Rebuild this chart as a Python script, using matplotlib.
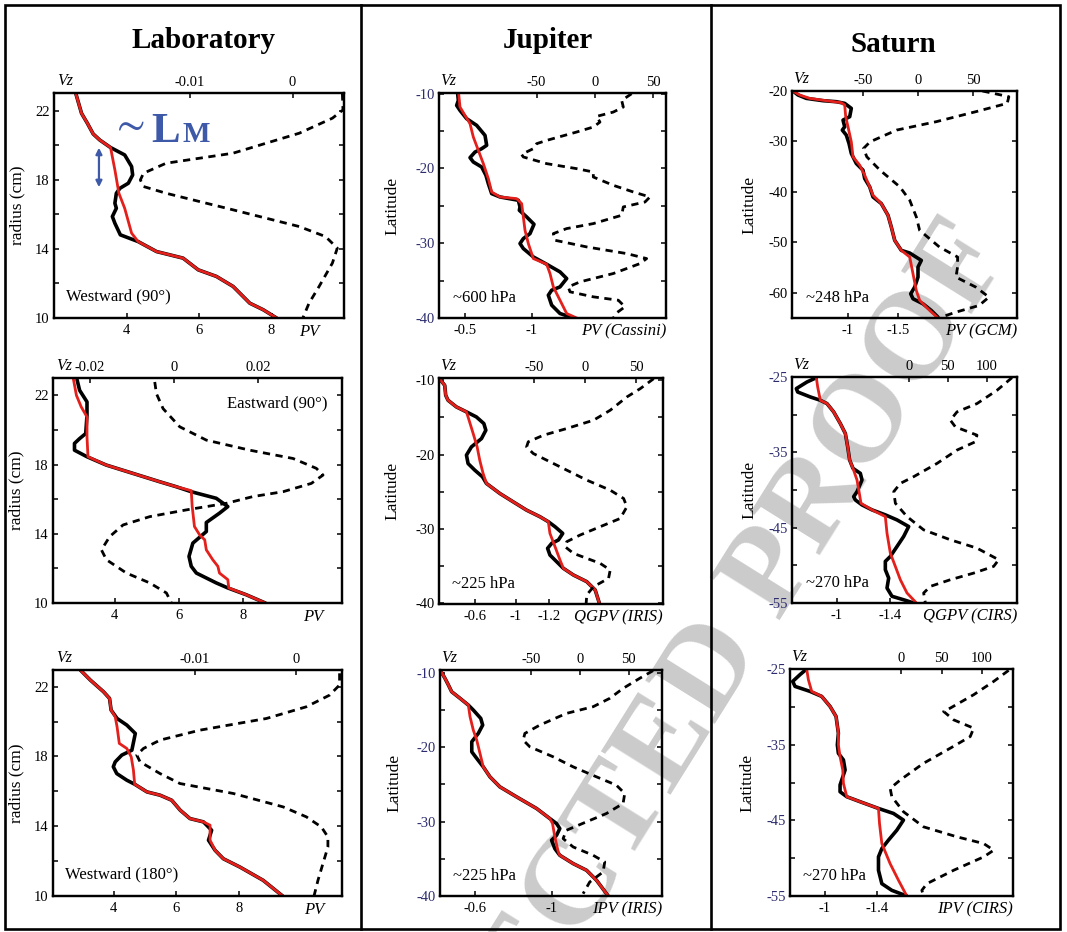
import matplotlib
matplotlib.use("Agg")
import matplotlib.pyplot as plt
from matplotlib.patches import Rectangle, FancyArrowPatch
from matplotlib.lines import Line2D

plt.rcParams['font.family'] = ['Liberation Serif', 'DejaVu Serif']
plt.rcParams['mathtext.fontset'] = 'stix'

W, H = 1067, 932

# ---------------- Laboratory, westward 90 ----------------
LAB1_BLACK_PV = [2.60, 2.76, 2.92, 3.08, 3.26, 3.56, 3.95, 4.14, 4.17, 4.05, 3.82, 3.72, 3.68, 3.72, 3.61,
                 3.68, 3.83, 4.32, 4.83, 5.56, 5.98, 6.48, 6.94, 7.40, 7.77, 8.14]
LAB1_BLACK_R = [23.02, 21.86, 21.29, 20.67, 20.32, 19.88, 19.45, 18.78, 18.29, 17.81, 17.52, 17.23, 16.65, 16.36,
                15.88, 15.49, 14.82, 14.43, 13.85, 13.47, 12.79, 12.41, 11.83, 10.86, 10.48, 10.0]
LAB1_RED_PV = [2.60, 2.76, 2.92, 3.08, 3.26, 3.56, 3.68, 3.79, 3.95, 4.14, 4.32, 4.83, 5.56, 5.98, 6.48, 6.94,
               7.40, 7.77, 8.14]
LAB1_RED_R = [23.02, 21.86, 21.29, 20.67, 20.32, 19.88, 18.58, 17.23, 16.36, 14.92, 14.43, 13.85, 13.47, 12.79,
              12.41, 11.83, 10.86, 10.48, 10.0]
LAB1_VZ = [0.00484, 0.0049, 0.00387, 0.00065, -0.0058, -0.0123, -0.0145, -0.0148, -0.0145, -0.0123, -0.0058,
           0.00065, 0.0032, 0.00435, 0.00387, 0.00258, 0.0016, 0.001]
LAB1_VZ_R = [23.02, 22.06, 21.58, 20.71, 19.55, 18.97, 18.39, 18.0, 17.62, 17.23, 16.27, 15.30, 14.72, 14.05,
             13.18, 11.83, 10.86, 10.0]

# ---------------- Laboratory, eastward 90 ----------------
LAB2_BLACK_PV = [2.83, 2.91, 3.14, 3.14, 3.10, 2.91, 2.75, 2.75, 3.14, 3.74, 4.57, 5.40, 5.92, 6.39, 7.17, 7.53,
                 7.27, 6.86, 6.86, 6.44, 6.32, 6.39, 6.55, 7.17, 7.53, 8.10, 8.70]
LAB2_BLACK_R = [22.9, 22.29, 21.62, 20.85, 19.79, 19.5, 19.22, 18.83, 18.45, 17.97, 17.49, 17.01, 16.72, 16.43,
                16.05, 15.57, 15.19, 14.65, 14.13, 13.46, 12.69, 12.12, 11.73, 11.16, 10.87, 10.48, 10.0]
LAB2_RED_PV = [2.72, 2.81, 2.96, 3.14, 3.14, 3.17, 3.74, 4.57, 5.40, 5.92, 6.39, 6.42, 6.49, 6.65, 6.81, 6.86,
               7.06, 7.22, 7.27, 7.53, 7.56, 8.10, 8.70]
LAB2_RED_R = [22.9, 22.0, 21.33, 20.75, 19.6, 18.45, 17.97, 17.49, 17.01, 16.72, 16.49, 15.57, 14.42, 13.94,
              13.65, 13.07, 12.5, 12.12, 11.73, 11.35, 10.87, 10.48, 10.0]
LAB2_VZ = [-0.00451, -0.00412, -0.00253, 0.00143, 0.00776, 0.01806, 0.02836, 0.0339, 0.03549, 0.03271, 0.02598,
           0.01885, 0.01251, 0.00301, -0.0057, -0.01204, -0.01521, -0.01719, -0.016, -0.01125, -0.0057,
           -0.00174, -0.00055]
LAB2_VZ_R = [22.77, 22.1, 21.23, 20.18, 19.41, 18.83, 18.35, 17.78, 17.39, 16.91, 16.43, 16.15, 15.76, 15.38,
             14.99, 14.51, 13.84, 13.07, 12.5, 11.73, 11.16, 10.58, 10.0]

# ---------------- Laboratory, westward 180 ----------------
LAB3_BLACK_PV = [2.94, 3.26, 3.68, 3.87, 3.92, 4.11, 4.42, 4.69, 4.58, 4.26, 4.05, 3.99, 4.10, 4.42, 4.67, 5.06,
                 5.48, 5.85, 6.12, 6.43, 6.86, 7.12, 7.02, 7.23, 7.49, 8.02, 8.76, 9.38]
LAB3_BLACK_R = [22.96, 22.38, 21.71, 21.33, 20.66, 20.18, 19.80, 19.32, 18.36, 18.08, 17.69, 17.41, 17.02, 16.64,
                16.41, 15.97, 15.78, 15.49, 14.92, 14.44, 14.25, 13.77, 13.2, 12.62, 12.14, 11.66, 10.9, 10.0]
LAB3_RED_PV = [2.94, 3.26, 3.68, 3.87, 3.92, 4.05, 4.11, 4.18, 4.42, 4.56, 4.63, 4.67, 5.06, 5.48, 5.85, 6.12,
               6.43, 6.86, 7.07, 7.07, 7.23, 7.49, 8.02, 8.76, 9.38]
LAB3_RED_R = [22.96, 22.38, 21.71, 21.33, 20.66, 20.28, 19.70, 18.75, 18.46, 17.98, 17.22, 16.41, 15.97, 15.78,
              15.49, 14.92, 14.44, 14.25, 14.06, 13.2, 12.62, 12.14, 11.66, 10.9, 10.0]
LAB3_VZ = [0.00426, 0.00426, 0.00328, 0.00098, -0.00295, -0.00951, -0.01344, -0.01508, -0.01574, -0.01541,
           -0.01344, -0.01148, -0.00623, -0.00131, 0.00098, 0.00246, 0.00311, 0.00311, 0.00262, 0.00213, 0.00174]
LAB3_VZ_R = [22.77, 22.1, 21.52, 20.85, 20.18, 19.51, 18.94, 18.46, 18.08, 17.69, 17.02, 16.45, 15.88, 15.11,
             14.54, 13.96, 13.39, 12.81, 11.86, 10.90, 10.0]

# ---------------- Jupiter ~600 hPa (Cassini PV) ----------------
JUP1_BLACK_PV = [-0.445, -0.45, -0.4375, -0.4625, -0.5125, -0.5875, -0.65, -0.6625, -0.625, -0.575, -0.5375,
                 -0.5625, -0.625, -0.657, -0.675, -0.70, -0.7625, -0.9, -0.9125, -0.9075, -0.9625, -1.0175,
                 -0.9875, -0.9375, -0.9125, -0.9375, -1.0125, -1.1125, -1.2125, -1.2625, -1.2125, -1.15, -1.125,
                 -1.15, -1.2125, -1.3125]
JUP1_BLACK_LAT = [-10.0, -10.89, -11.56, -12.23, -13.34, -14.23, -15.57, -16.9, -17.35, -17.8, -18.55, -19.13,
                  -19.8, -20.91, -22.03, -23.36, -23.81, -24.25, -25.14, -25.59, -26.48, -27.46, -28.71, -29.38,
                  -30.04, -30.71, -31.83, -32.81, -33.83, -34.72, -35.84, -36.28, -36.95, -38.28, -39.4, -40.0]
JUP1_RED_PV = [-0.4525, -0.4625, -0.5075, -0.5375, -0.5625, -0.6, -0.6375, -0.675, -0.7, -0.7625, -0.8875,
               -0.925, -0.9375, -0.95, -0.975, -1.0125, -1.1125, -1.1375, -1.1625, -1.2125, -1.2625, -1.3375]
JUP1_RED_LAT = [-10.0, -11.78, -13.12, -14.0, -15.79, -17.57, -19.35, -21.36, -23.14, -23.81, -24.03, -24.7,
                -26.48, -28.26, -30.04, -32.05, -32.81, -34.05, -35.84, -37.62, -39.4, -40.0]
JUP1_VZ = [31.4, 22.9, 24.3, 15.7, 1.4, 4.3, -1.4, -15.7, -41.4, -50.0, -52.9, -62.9, -61.4, -41.4, -15.7, -1.4,
           -1.4, 15.7, 32.9, 47.1, 42.9, 24.3, 22.9, -1.4, -24.3, -35.7, -34.3, -7.1, 27.1, 44.3, 38.6, 15.7,
           -12.9, -22.9, -21.4, -1.4, 20.0, 25.7, 18.6, 15.7]
JUP1_VZ_LAT = [-10.0, -10.89, -11.78, -12.45, -13.03, -13.79, -14.45, -15.12, -16.24, -16.68, -17.35, -18.11,
               -18.46, -19.35, -20.02, -20.47, -21.14, -22.25, -23.14, -23.81, -24.48, -25.14, -26.26, -27.37,
               -28.04, -28.71, -29.6, -30.49, -31.38, -32.05, -32.72, -34.05, -35.17, -35.84, -36.5, -37.17,
               -37.62, -38.5, -39.31, -40.0]

# ---------------- Jupiter ~225 hPa (IRIS QGPV) ----------------
JUP2_BLACK_PV = [-0.326, -0.358, -0.366, -0.385, -0.452, -0.533, -0.613, -0.673, -0.689, -0.654, -0.573, -0.533,
                 -0.546, -0.6, -0.662, -0.694, -0.802, -0.909, -1.017, -1.125, -1.192, -1.246, -1.308, -1.273,
                 -1.219, -1.186, -1.205, -1.259, -1.313, -1.394, -1.501, -1.569, -1.603]
JUP2_BLACK_LAT = [-10.0, -10.67, -12.02, -12.69, -13.58, -14.25, -14.93, -15.82, -16.72, -17.84, -18.96, -20.07,
                  -21.2, -22.09, -22.99, -23.88, -25.23, -26.35, -27.47, -28.36, -29.03, -29.7, -30.6, -31.49,
                  -31.94, -32.61, -33.51, -34.41, -35.3, -36.2, -37.09, -38.21, -40.0]
JUP2_RED_PV = [-0.326, -0.358, -0.366, -0.385, -0.452, -0.533, -0.554, -0.587, -0.619, -0.64, -0.667, -0.694,
               -0.802, -0.909, -1.017, -1.125, -1.192, -1.205, -1.246, -1.286, -1.313, -1.394, -1.501, -1.569,
               -1.603]
JUP2_RED_LAT = [-10.0, -10.67, -12.02, -12.69, -13.58, -14.25, -15.37, -17.16, -18.96, -20.75, -22.54, -23.88,
                -25.23, -26.35, -27.47, -28.36, -29.03, -30.6, -32.39, -34.18, -35.3, -36.2, -37.09, -38.21, -40.0]
JUP2_VZ = [67.0, 53.9, 40.8, 24.5, 8.2, -18.0, -40.8, -55.6, -57.2, -50.7, -24.5, 1.6, 24.5, 37.6, 40.8, 34.3,
           14.7, -4.9, -18.0, -19.6, -11.4, 14.7, 24.5, 22.9, 8.2, 1.6, 1.0]
JUP2_VZ_LAT = [-9.78, -11.12, -12.24, -14.03, -15.37, -16.49, -17.39, -18.28, -18.96, -19.85, -21.64, -23.43,
               -24.78, -25.9, -27.02, -28.59, -29.7, -30.82, -31.72, -32.39, -33.29, -34.63, -35.53, -36.65,
               -37.77, -38.88, -40.0]

# ---------------- Jupiter ~225 hPa (IRIS IPV) ----------------
JUP3_BLACK_PV = [-0.426, -0.443, -0.461, -0.478, -0.522, -0.565, -0.591, -0.63, -0.64, -0.617, -0.583, -0.583,
                 -0.609, -0.643, -0.678, -0.73, -0.817, -0.922, -0.991, -1.026, -1.043, -1.026, -1.0, -1.017,
                 -1.043, -1.113, -1.183, -1.235, -1.296]
JUP3_BLACK_LAT = [-10.0, -10.76, -11.66, -12.56, -13.45, -14.35, -15.02, -16.14, -17.04, -18.16, -19.28, -20.63,
                  -21.52, -22.65, -23.99, -25.34, -26.68, -28.25, -29.6, -30.27, -30.94, -31.84, -32.51, -33.63,
                  -34.53, -35.65, -36.55, -37.89, -40.0]
JUP3_RED_PV = [-0.426, -0.443, -0.461, -0.478, -0.522, -0.565, -0.574, -0.591, -0.609, -0.626, -0.643, -0.678,
               -0.73, -0.817, -0.922, -0.991, -1.005, -1.017, -1.035, -1.043, -1.113, -1.183, -1.235, -1.296]
JUP3_RED_LAT = [-10.0, -10.76, -11.66, -12.56, -13.45, -14.35, -15.92, -17.71, -19.06, -20.85, -22.65, -23.99,
                -25.34, -26.68, -28.25, -29.6, -30.27, -32.06, -34.08, -34.53, -35.65, -36.55, -37.89, -40.0]
JUP3_VZ = [75.1, 61.4, 44.4, 30.7, 13.7, -13.7, -41.0, -56.3, -58.0, -51.2, -27.3, -6.8, 17.1, 37.5, 46.1, 44.4,
           27.3, 6.8, -13.7, -17.1, -6.8, 13.7, 25.6, 23.9, 10.2, 3.4]
JUP3_VZ_LAT = [-9.73, -10.76, -12.11, -13.45, -14.57, -15.47, -17.04, -18.16, -19.06, -19.96, -21.3, -22.65,
               -23.99, -25.11, -26.23, -27.58, -28.92, -30.04, -31.17, -32.29, -33.41, -34.53, -35.43, -36.77,
               -38.12, -39.69]

# ---------------- Saturn ~248 hPa (GCM PV) ----------------
SAT1_BLACK_PV = [-0.45, -0.5, -0.583, -0.75, -0.883, -0.967, -1.033, -1.017, -0.95, -0.967, -0.943, -0.983, -1.01,
                 -1.033, -1.083, -1.15, -1.167, -1.217, -1.25, -1.333, -1.4, -1.433, -1.467, -1.533, -1.617,
                 -1.733, -1.7, -1.7, -1.667, -1.627, -1.65, -1.75, -1.833, -1.9]
SAT1_BLACK_LAT = [-20.0, -20.79, -21.46, -21.92, -22.12, -22.45, -23.44, -25.1, -25.76, -27.09, -27.75, -28.74,
                  -30.4, -32.38, -34.37, -35.7, -37.35, -39.0, -41.0, -42.32, -44.64, -46.95, -49.6, -51.59,
                  -52.12, -53.58, -54.9, -56.89, -58.87, -60.2, -61.19, -62.19, -63.51, -64.83]
SAT1_RED_PV = [-0.45, -0.517, -0.617, -0.783, -0.933, -0.967, -0.977, -1.0, -1.033, -1.05, -1.117, -1.167, -1.217,
               -1.25, -1.333, -1.4, -1.433, -1.467, -1.533, -1.617, -1.65, -1.683, -1.717, -1.817, -1.9]
SAT1_RED_LAT = [-20.0, -20.79, -21.46, -21.92, -22.32, -22.78, -25.1, -27.09, -30.07, -33.05, -34.7, -36.69,
                -39.0, -40.66, -42.32, -44.64, -46.95, -49.6, -51.59, -52.91, -56.23, -59.54, -61.52, -63.51,
                -65.0]
SAT1_VZ = [58.6, 82.6, 81.1, 52.6, 16.5, -19.5, -43.5, -49.5, -46.5, -34.5, -16.5, -7.5, -1.5, 1.5, 19.5, 36.0,
           36.0, 34.5, 52.5, 64.5, 55.5, 34.5, 21.0]
SAT1_VZ_LAT = [-20.0, -21.13, -22.45, -24.1, -26.09, -27.75, -30.07, -31.39, -33.05, -35.7, -39.0, -41.65, -44.97,
               -47.62, -50.93, -52.91, -54.9, -56.89, -58.87, -60.86, -62.52, -63.84, -64.83]

# ---------------- Saturn ~270 hPa (CIRS QGPV) ----------------
SAT2_BLACK_PV = [-0.845, -0.775, -0.695, -0.705, -0.8, -0.875, -0.925, -0.975, -1.025, -1.0625, -1.08, -1.095,
                 -1.12, -1.175, -1.1875, -1.15, -1.125, -1.1375, -1.1875, -1.2625, -1.3625, -1.45, -1.5375, -1.5,
                 -1.45, -1.4, -1.3625, -1.3625, -1.3875, -1.375, -1.4125, -1.5125, -1.575]
SAT2_BLACK_LAT = [-25.09, -25.66, -26.54, -26.99, -27.65, -28.09, -28.53, -29.63, -31.18, -32.5, -34.26, -36.03,
                  -37.13, -37.79, -38.67, -40.22, -40.88, -41.32, -41.98, -42.64, -43.3, -43.97, -44.85, -46.17,
                  -47.5, -48.82, -49.48, -50.58, -51.69, -53.01, -54.11, -54.64, -55.0]
SAT2_RED_PV = [-0.845, -0.855, -0.875, -0.925, -0.975, -1.025, -1.0625, -1.08, -1.095, -1.12, -1.15, -1.1675,
               -1.18, -1.2625, -1.3625, -1.375, -1.4, -1.4375, -1.475, -1.525, -1.6]
SAT2_RED_LAT = [-25.09, -26.32, -28.09, -28.53, -29.63, -31.18, -32.5, -34.26, -36.03, -37.13, -38.67, -40.44,
                -41.76, -42.64, -43.53, -45.73, -48.38, -50.14, -51.91, -53.67, -55.08]
SAT2_VZ = [131.9, 112.8, 87.2, 61.7, 53.2, 59.6, 87.2, 85.1, 61.7, 36.2, 6.4, -10.6, -19.1, -17.0, -2.1, 19.1,
           53.2, 87.2, 114.9, 108.5, 83.0, 53.2, 27.7, 19.1, 21.3]
SAT2_VZ_LAT = [-25.09, -26.76, -28.53, -29.63, -30.73, -31.62, -32.72, -33.6, -34.7, -36.47, -38.23, -39.12,
               -40.22, -41.76, -43.53, -45.29, -46.61, -47.72, -49.26, -50.14, -51.03, -51.91, -52.79, -53.67, -55.0]

# ---------------- Saturn ~270 hPa (CIRS IPV) ----------------
SAT3_BLACK_PV = [-0.858, -0.806, -0.75, -0.768, -0.884, -0.974, -1.039, -1.085, -1.103, -1.095, -1.103, -1.142,
                 -1.155, -1.116, -1.116, -1.168, -1.271, -1.413, -1.529, -1.606, -1.555, -1.49, -1.439, -1.413,
                 -1.413, -1.439, -1.516, -1.632]
SAT3_BLACK_LAT = [-25.0, -25.75, -26.64, -27.3, -27.96, -28.62, -29.95, -31.27, -33.48, -35.03, -36.14, -37.02,
                  -38.35, -40.33, -41.22, -41.88, -42.54, -43.43, -44.09, -44.97, -46.3, -47.62, -48.73, -49.83,
                  -51.6, -53.37, -54.25, -55.0]
SAT3_RED_PV = [-0.858, -0.871, -0.897, -0.974, -1.039, -1.085, -1.103, -1.103, -1.116, -1.137, -1.142, -1.168,
               -1.271, -1.413, -1.421, -1.439, -1.503, -1.568, -1.632]
SAT3_RED_LAT = [-25.0, -26.41, -27.96, -28.62, -29.95, -31.27, -33.48, -35.03, -36.58, -38.35, -40.11, -41.88,
                -42.54, -43.43, -45.42, -48.07, -50.72, -52.93, -55.0]
SAT3_VZ = [133.0, 114.5, 89.7, 60.7, 52.5, 64.9, 89.7, 85.5, 60.7, 27.7, -1.2, -13.6, -11.6, 2.9, 27.7, 69.0,
           102.1, 114.5, 102.1, 64.9, 31.8, 25.6, 27.7]
SAT3_VZ_LAT = [-25.18, -26.64, -28.4, -30.17, -30.61, -31.72, -32.82, -33.93, -35.47, -37.46, -39.67, -40.78,
               -41.88, -43.87, -45.86, -47.18, -48.07, -48.95, -49.83, -51.6, -53.37, -54.25, -55.0]

COLUMN_TITLES = ['Laboratory', 'Jupiter', 'Saturn']
LAB_CASES = ['Westward (90°)', 'Eastward (90°)', 'Westward (180°)']
PRESSURES = ['~600 hPa', '~225 hPa', '~225 hPa', '~248 hPa', '~270 hPa', '~270 hPa']
PV_NAMES = ['PV', 'PV', 'PV', 'PV (Cassini)', 'QGPV (IRIS)', 'IPV (IRIS)', 'PV (GCM)', 'QGPV (CIRS)', 'IPV (CIRS)']

RED = '#e3201b'
BLUE = '#3d59a8'
NAVY = '#2c2c6e'

fig = plt.figure(figsize=(W / 100, H / 100), dpi=100)


def px_box(l, t, r, b):
    return [l / W, 1 - b / H, (r - l) / W, (b - t) / H]


def panel(box, black, red, vz, xlim, vzlim, ylim, xt, xtl, vzt, vztl, yt, ytl,
          ylabel, ylab_x, pvname, pv_x, pv_ha, ycol):
    ax = fig.add_axes(px_box(*box))
    ax.set_facecolor('none')
    ax.plot(black[0], black[1], color='black', lw=2.6, solid_joinstyle='round', solid_capstyle='round')
    ax.plot(red[0], red[1], color=RED, lw=2.0, solid_joinstyle='round')
    ax.set_xlim(xlim)
    ax.set_ylim(ylim)
    ax.set_xticks(xt, xtl)
    ax.set_yticks(yt, ytl)
    ax.tick_params(direction='in', length=3.5, width=1.1, top=False, right=True, labelsize=10.5, pad=4)
    ax.tick_params(axis='y', labelcolor=ycol, pad=3)
    for s in ax.spines.values():
        s.set_linewidth(1.6)
    ax.set_ylabel(ylabel, fontsize=12.5)
    ax.yaxis.set_label_coords(ylab_x, 0.5)
    ax.annotate(pvname, (pv_x, 0), xycoords='axes fraction', xytext=(0, -4), textcoords='offset points',
                ha=pv_ha, va='top', fontsize=12, style='italic')
    ax.annotate('Vz', (0.04, 1), xycoords='axes fraction', xytext=(0, 3), textcoords='offset points',
                ha='center', va='bottom', fontsize=11.5, style='italic')

    ax2 = ax.twiny()
    ax2.plot(vz[0], vz[1], color='black', lw=2.0, dashes=(2.6, 2.0))
    ax2.set_xlim(vzlim)
    ax2.set_xticks(vzt, vztl)
    ax2.tick_params(direction='in', length=3.5, width=1.1, labelsize=10.5, pad=3)
    for s in ax2.spines.values():
        s.set_linewidth(1.6)
    return ax


lab_y = [10, 12, 14, 16, 18, 20, 22]
lab_yl = ['10', '', '14', '', '18', '', '22']
jup_y = [-40, -35, -30, -25, -20, -15, -10]
jup_yl = ['-40', '', '-30', '', '-20', '', '-10']
sat1_y = [-60, -50, -40, -30, -20]
sat_y = [-55, -50, -45, -40, -35, -30, -25]
sat_yl = ['-55', '', '-45', '', '-35', '', '-25']

ax_l1 = panel((54, 93, 344, 318), (LAB1_BLACK_PV, LAB1_BLACK_R), (LAB1_RED_PV, LAB1_RED_R), (LAB1_VZ, LAB1_VZ_R),
              (2, 10), (-0.0232, 0.0050), (10, 23.04), [4, 6, 8], ['4', '6', '8'], [-0.01, 0], ['-0.01', '0'],
              lab_y, lab_yl, 'radius (cm)', -0.10, PV_NAMES[0], 0.88, 'center', 'black')
ax_l2 = panel((53, 378, 342, 603), (LAB2_BLACK_PV, LAB2_BLACK_R), (LAB2_RED_PV, LAB2_RED_R), (LAB2_VZ, LAB2_VZ_R),
              (2.08, 11.09), (-0.0287, 0.040), (10, 23.0), [4, 6, 8], ['4', '6', '8'], [-0.02, 0, 0.02],
              ['-0.02', '0', '0.02'], lab_y, lab_yl, 'radius (cm)', -0.10, PV_NAMES[1], 0.90, 'center', 'black')
ax_l3 = panel((53, 670, 342, 896), (LAB3_BLACK_PV, LAB3_BLACK_R), (LAB3_RED_PV, LAB3_RED_R), (LAB3_VZ, LAB3_VZ_R),
              (2.07, 11.27), (-0.024, 0.0045), (10, 22.96), [4, 6, 8], ['4', '6', '8'], [-0.01, 0], ['-0.01', '0'],
              lab_y, lab_yl, 'radius (cm)', -0.10, PV_NAMES[2], 0.905, 'center', 'black')

ax_j1 = panel((439, 93, 666, 318), (JUP1_BLACK_PV, JUP1_BLACK_LAT), (JUP1_RED_PV, JUP1_RED_LAT),
              (JUP1_VZ, JUP1_VZ_LAT), (-0.305, -2.0075), (-133.7, 60.9), (-40, -9.9), [-0.5, -1], ['-0.5', '-1'],
              [-50, 0, 50], ['-50', '0', '50'], jup_y, jup_yl, 'Latitude', -0.17, PV_NAMES[3], 1.0, 'right', NAVY)
ax_j2 = panel((439, 378, 663, 604), (JUP2_BLACK_PV, JUP2_BLACK_LAT), (JUP2_RED_PV, JUP2_RED_LAT),
              (JUP2_VZ, JUP2_VZ_LAT), (-0.312, -2.115), (-142.8, 76.1), (-40.1, -9.69), [-0.6, -0.93, -1.2],
              ['-0.6', '-1', '-1.2'], [-50, 0, 50], ['-50', '0', '50'], jup_y, jup_yl, 'Latitude', -0.17,
              PV_NAMES[4], 1.0, 'right', 'black')
ax_j3 = panel((440, 670, 662, 896), (JUP3_BLACK_PV, JUP3_BLACK_LAT), (JUP3_RED_PV, JUP3_RED_LAT),
              (JUP3_VZ, JUP3_VZ_LAT), (-0.417, -1.577), (-143.3, 84.3), (-40, -9.64), [-0.6, -1], ['-0.6', '-1'],
              [-50, 0, 50], ['-50', '0', '50'], jup_y, jup_yl, 'Latitude', -0.17, PV_NAMES[5], 1.0, 'right', NAVY)

ax_s1 = panel((792, 91, 1017, 318), (SAT1_BLACK_PV, SAT1_BLACK_LAT), (SAT1_RED_PV, SAT1_RED_LAT),
              (SAT1_VZ, SAT1_VZ_LAT), (-0.44, -2.69), (-114.5, 90), (-65, -20), [-1, -1.5], ['-1', '-1.5'],
              [-50, 0, 50], ['-50', '0', '50'], sat1_y, [str(v) for v in sat1_y], 'Latitude', -0.155,
              PV_NAMES[6], 1.0, 'right', 'black')
ax_s2 = panel((792, 377, 1017, 603), (SAT2_BLACK_PV, SAT2_BLACK_LAT), (SAT2_RED_PV, SAT2_RED_LAT),
              (SAT2_VZ, SAT2_VZ_LAT), (-0.6625, -2.35), (-149, 138.3), (-55, -25), [-1, -1.4], ['-1', '-1.4'],
              [0, 50, 100], ['0', '50', '100'], sat_y, sat_yl, 'Latitude', -0.155, PV_NAMES[7], 1.0, 'right', NAVY)
ax_s3 = panel((790, 669, 1013, 896), (SAT3_BLACK_PV, SAT3_BLACK_LAT), (SAT3_RED_PV, SAT3_RED_LAT),
              (SAT3_VZ, SAT3_VZ_LAT), (-0.729, -2.453), (-137.6, 138.4), (-55, -25), [-1, -1.4], ['-1', '-1.4'],
              [0, 50, 100], ['0', '50', '100'], sat_y, sat_yl, 'Latitude', -0.155, PV_NAMES[8], 1.0, 'right', NAVY)

# case / pressure labels inside the panels
for ax, txt in [(ax_l1, LAB_CASES[0]), (ax_l3, LAB_CASES[2])]:
    ax.text(0.04, 0.095, txt, transform=ax.transAxes, fontsize=12, va='center', ha='left')
ax_l2.text(0.95, 0.885, LAB_CASES[1], transform=ax_l2.transAxes, fontsize=12, va='center', ha='right')
for ax, txt in zip([ax_j1, ax_j2, ax_j3, ax_s1, ax_s2, ax_s3], PRESSURES):
    ax.text(0.06, 0.09, txt, transform=ax.transAxes, fontsize=12, va='center', ha='left')

# ~ L_M annotation with the double arrow
ax_l1.add_patch(FancyArrowPatch((3.24, 20.03), (3.24, 17.42), arrowstyle='<|-|>', mutation_scale=9,
                                color=BLUE, lw=1.6))
fig.text(127 / W, 1 - 125 / H, r'$\sim$', fontsize=30, color=BLUE, ha='center', va='center')
fig.text(151 / W, 1 - 142 / H, 'L', fontsize=31, color=BLUE, weight='bold', ha='left', va='baseline')
fig.text(183 / W, 1 - 142 / H, 'M', fontsize=21, color=BLUE, weight='bold', ha='left', va='baseline')

# column titles
for x, y, t in zip([203, 548, 893], [40, 40, 45], COLUMN_TITLES):
    fig.text(x / W, 1 - y / H, t, fontsize=21, weight='bold', ha='center', va='center')

# frame and column dividers
fig.add_artist(Rectangle((5 / W, 1 - 929 / H), 1055 / W, 924 / H, transform=fig.transFigure,
                         fill=False, lw=1.9, edgecolor='black'))
for x in [361, 711]:
    fig.add_artist(Line2D([x / W, x / W], [1 - 5 / H, 1 - 929 / H], transform=fig.transFigure,
                          color='black', lw=1.9))

# proof watermark behind the curves
fig.text(985 / W, 1 - 235 / H, 'UNCORRECTED PROOF', fontsize=90, weight='bold', color='#cbcbcb',
         rotation=58, rotation_mode='anchor', ha='right', va='center', zorder=-1)

fig.savefig('out.png', dpi=100)
